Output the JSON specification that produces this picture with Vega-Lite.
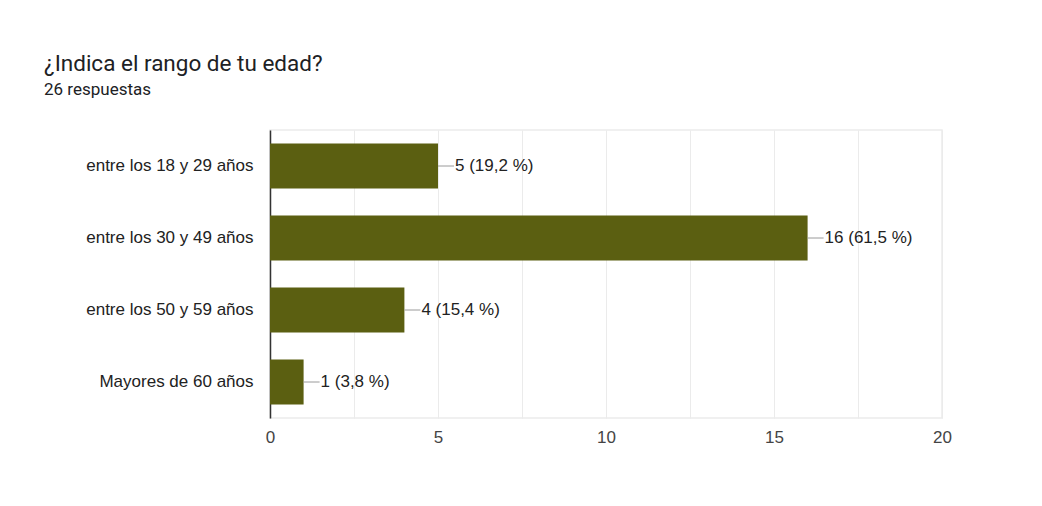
{
  "$schema": "https://vega.github.io/schema/vega-lite/v6.json",
  "width": 672,
  "height": 288,
  "autosize": {"type": "none"},
  "padding": {"left": 270, "top": 130, "right": 100, "bottom": 88},
  "background": "white",
  "title": {
    "text": "¿Indica el rango de tu edad?",
    "subtitle": "26 respuestas",
    "anchor": "start",
    "frame": "group",
    "dx": -226,
    "offset": 32,
    "font": "Roboto",
    "fontSize": 22.5,
    "fontWeight": "normal",
    "color": "#202124",
    "subtitleFont": "Roboto",
    "subtitleFontSize": 17,
    "subtitleColor": "#202124",
    "subtitlePadding": 7
  },
  "data": {
    "values": [
      {"rango": "entre los 18 y 29 años", "respuestas": 5, "etiqueta": "5 (19,2 %)"},
      {"rango": "entre los 30 y 49 años", "respuestas": 16, "etiqueta": "16 (61,5 %)"},
      {"rango": "entre los 50 y 59 años", "respuestas": 4, "etiqueta": "4 (15,4 %)"},
      {"rango": "Mayores de 60 años", "respuestas": 1, "etiqueta": "1 (3,8 %)"}
    ]
  },
  "encoding": {
    "y": {
      "field": "rango",
      "type": "nominal",
      "sort": null,
      "scale": {"paddingInner": 0.375, "paddingOuter": 0.1875},
      "axis": {
        "title": null,
        "ticks": false,
        "labelFont": "Liberation Sans",
        "labelFontSize": 17,
        "labelColor": "#222222",
        "labelPadding": 17,
        "domainColor": "#333333",
        "domainWidth": 1.5,
        "grid": false
      }
    },
    "x": {
      "field": "respuestas",
      "type": "quantitative",
      "scale": {"domain": [0, 20], "nice": false},
      "axis": {
        "title": null,
        "values": [0, 2.5, 5, 7.5, 10, 12.5, 15, 17.5, 20],
        "labelExpr": "datum.value % 5 === 0 ? datum.label : ''",
        "ticks": false,
        "domain": false,
        "grid": true,
        "gridColor": "#ebebeb",
        "gridWidth": 1,
        "labelFont": "Liberation Sans",
        "labelFontSize": 17,
        "labelColor": "#444444",
        "labelPadding": 11,
        "labelFlush": false
      }
    }
  },
  "layer": [
    {
      "mark": {"type": "bar", "color": "#5b5f11"}
    },
    {
      "mark": {"type": "rule", "color": "#9a9a9a", "strokeWidth": 1, "x2Offset": 16},
      "encoding": {
        "x2": {"field": "respuestas"}
      }
    },
    {
      "mark": {"type": "text", "align": "left", "baseline": "middle", "dx": 17, "font": "Liberation Sans", "fontSize": 17, "color": "#222222"},
      "encoding": {
        "text": {"field": "etiqueta"}
      }
    }
  ],
  "config": {
    "view": {"stroke": "#ebebeb", "strokeWidth": 1.5}
  }
}
